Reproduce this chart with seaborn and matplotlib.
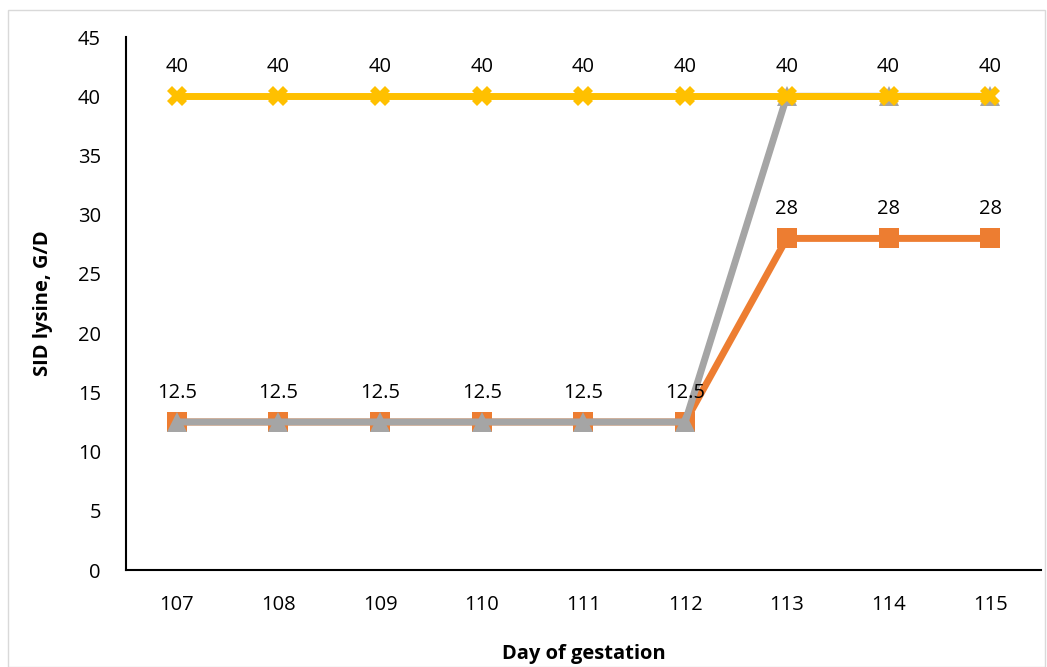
import pandas as pd
import seaborn as sns
import matplotlib.pyplot as plt
from matplotlib.patches import Rectangle

# datos
dias = [107, 108, 109, 110, 111, 112, 113, 114, 115]
serie_naranja = [12.5, 12.5, 12.5, 12.5, 12.5, 12.5, 28, 28, 28]
serie_gris = [12.5, 12.5, 12.5, 12.5, 12.5, 12.5, 40, 40, 40]
serie_amarilla = [40, 40, 40, 40, 40, 40, 40, 40, 40]

nombres = ["Naranja", "Gris", "Amarilla"]
colores = {"Naranja": "#ED7D31", "Gris": "#A5A5A5", "Amarilla": "#FFC000"}
marcadores = {"Naranja": "s", "Gris": "^", "Amarilla": "X"}

df = pd.DataFrame({
    "dia": dias * 3,
    "valor": serie_naranja + serie_gris + serie_amarilla,
    "serie": ["Naranja"] * 9 + ["Gris"] * 9 + ["Amarilla"] * 9,
})

sns.set_style("white")
plt.rcParams['font.family'] = ['Open Sans', 'DejaVu Sans']
plt.rcParams['text.color'] = 'black'
plt.rcParams['xtick.color'] = 'black'
plt.rcParams['ytick.color'] = 'black'
plt.rcParams['axes.labelcolor'] = 'black'

fig = plt.figure(figsize=(10.47, 6.67), dpi=100)
ax = fig.add_axes([0.1203, 0.1454, 0.874, 0.799])

# borde gris claro de la figura
fig.patches.append(Rectangle((0.008, 0.0), 0.99, 0.985, transform=fig.transFigure,
                             fill=False, edgecolor="#D9D9D9", linewidth=1))

sns.lineplot(data=df, x="dia", y="valor", hue="serie", style="serie",
             hue_order=nombres, style_order=nombres, palette=colores,
             markers=marcadores, dashes=False, linewidth=5, markersize=14,
             markeredgewidth=0, legend=False, ax=ax)

# etiquetas de datos
for d, v in zip(dias, serie_amarilla):
    ax.annotate(f"{v:g}", (d, v), xytext=(0, 14), textcoords="offset points",
                ha="center", va="bottom", fontsize=14.5)
for d, v in zip(dias, serie_naranja):
    ax.annotate(f"{v:g}", (d, v), xytext=(0, 14), textcoords="offset points",
                ha="center", va="bottom", fontsize=14.5)

ax.set_xlim(106.5, 115.5)
ax.set_ylim(0, 45)
ax.set_xticks(dias)
ax.set_yticks(range(0, 46, 5))
ax.tick_params(axis="both", length=0, labelsize=14.5)
ax.tick_params(axis="y", pad=18)
ax.tick_params(axis="x", pad=18)

ax.set_xlabel("Day of gestation", fontsize=14.5, fontweight="bold", labelpad=21)
ax.set_ylabel("SID lysine, G/D", fontsize=14.5, fontweight="bold", labelpad=18)

sns.despine(ax=ax, top=True, right=True)
for s in ["left", "bottom"]:
    ax.spines[s].set_color("black")
    ax.spines[s].set_linewidth(1.5)

fig.savefig("out.png", dpi=100)
